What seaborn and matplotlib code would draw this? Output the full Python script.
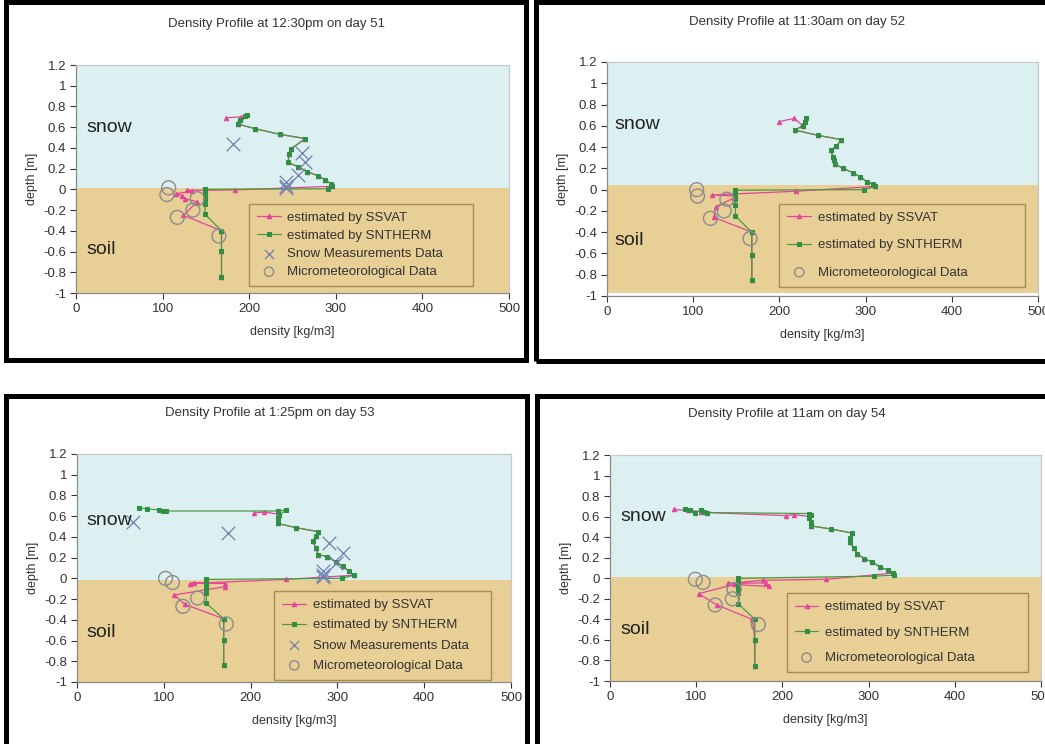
import numpy as np
import pandas as pd
import matplotlib
matplotlib.use("Agg")
import matplotlib.pyplot as plt
import seaborn as sns
from matplotlib.patches import Rectangle

sns.set_theme(style="white")
plt.rcParams['font.family'] = ['Liberation Sans', 'DejaVu Sans']

# ---------------- data ----------------
titles = ["Density Profile at 12:30pm on day 51",
          "Density Profile at 11:30am on day 52",
          "Density Profile at 1:25pm on day 53",
          "Density Profile at 11am on day 54"]

legend_labels = ["estimated by SSVAT", "estimated by SNTHERM",
                 "Snow Measurements Data", "Micrometeorological Data"]

x_ticks = [0, 100, 200, 300, 400, 500]
y_ticks = [1.2, 1.0, 0.8, 0.6, 0.4, 0.2, 0.0, -0.2, -0.4, -0.6, -0.8, -1.0]
y_tick_labels = ["1.2", "1", "0.8", "0.6", "0.4", "0.2", "0", "-0.2", "-0.4", "-0.6", "-0.8", "-1"]

# snow/soil boundary and soil bottom per panel
surface_level = [0.01, 0.04, -0.015, 0.015]
soil_bottom = [-1.0, -0.97, -1.0, -1.0]

# Panel 1 (day 51)
p1_sntherm_x = [195, 198, 189, 187, 207, 236, 265, 248, 246, 245, 256, 267, 280, 288, 295, 296, 291,
                149, 149, 149, 149, 149, 149, 149, 168, 168, 168]
p1_sntherm_y = [0.71, 0.72, 0.67, 0.63, 0.585, 0.53, 0.49, 0.39, 0.34, 0.26, 0.22, 0.17, 0.13, 0.09, 0.05, 0.03, 0.006,
                0.0, -0.02, -0.04, -0.06, -0.09, -0.14, -0.24, -0.40, -0.59, -0.85]
p1_ssvat_x = [173, 190, 188, 187, 207, 236, 265, 248, 246, 245, 256, 267, 280, 288, 295, 296,
              184, 128, 134, 116, 122, 126, 140, 124, 168, 168, 168]
p1_ssvat_y = [0.69, 0.70, 0.67, 0.63, 0.585, 0.53, 0.49, 0.39, 0.34, 0.26, 0.22, 0.17, 0.13, 0.09, 0.05, 0.03,
              -0.005, -0.01, -0.02, -0.04, -0.06, -0.09, -0.12, -0.25, -0.40, -0.59, -0.85]
p1_snow_x = [181, 261, 265, 256, 242, 243, 242]
p1_snow_y = [0.44, 0.35, 0.26, 0.14, 0.07, 0.03, 0.015]
p1_micro_x = [107, 105, 140, 135, 117, 165]
p1_micro_y = [0.015, -0.05, -0.09, -0.20, -0.27, -0.45]

# Panel 2 (day 52)
p2_sntherm_x = [231, 230, 227, 218, 245, 272, 266, 260, 262, 263, 264, 274, 285, 294, 302, 309, 311, 298,
                149, 149, 149, 149, 149, 149, 149, 168, 168, 168]
p2_sntherm_y = [0.67, 0.64, 0.60, 0.56, 0.51, 0.47, 0.41, 0.37, 0.31, 0.28, 0.24, 0.20, 0.16, 0.12, 0.07, 0.05, 0.03, 0.0,
                -0.005, -0.02, -0.04, -0.06, -0.09, -0.14, -0.25, -0.40, -0.61, -0.85]
p2_ssvat_x = [200, 217, 226, 227, 218, 245, 272, 266, 260, 262, 263, 264, 274, 285, 294, 302, 309, 311,
              219, 122, 148, 147, 126, 124, 168, 168, 168]
p2_ssvat_y = [0.64, 0.67, 0.61, 0.60, 0.56, 0.51, 0.47, 0.41, 0.37, 0.31, 0.28, 0.24, 0.20, 0.16, 0.12, 0.07, 0.05, 0.03,
              -0.015, -0.05, -0.06, -0.08, -0.16, -0.26, -0.40, -0.61, -0.85]
p2_micro_x = [104, 105, 139, 136, 120, 166]
p2_micro_y = [0.0, -0.06, -0.09, -0.20, -0.27, -0.46]

# Panel 3 (day 53)
p3_sntherm_x = [72, 81, 95, 99, 102, 231, 241, 233, 231, 231, 252, 278, 275, 272, 275, 278, 288, 298, 306, 313, 319, 305,
                149, 149, 149, 149, 149, 149, 149, 169, 169, 169]
p3_sntherm_y = [0.68, 0.67, 0.66, 0.65, 0.65, 0.65, 0.66, 0.61, 0.58, 0.53, 0.49, 0.45, 0.41, 0.36, 0.29, 0.23, 0.21, 0.16,
                0.12, 0.07, 0.03, 0.0,
                -0.01, -0.03, -0.05, -0.07, -0.09, -0.14, -0.24, -0.39, -0.59, -0.84]
p3_ssvat_x = [204, 216, 231, 233, 231, 231, 252, 278, 275, 272, 275, 278, 288, 298, 306, 313, 319,
              241, 130, 135, 170, 171, 112, 124, 169, 169, 169]
p3_ssvat_y = [0.63, 0.64, 0.62, 0.61, 0.58, 0.53, 0.49, 0.45, 0.41, 0.36, 0.29, 0.23, 0.21, 0.16, 0.12, 0.07, 0.03,
              -0.01, -0.05, -0.04, -0.05, -0.08, -0.16, -0.25, -0.39, -0.59, -0.84]
p3_snow_x = [64, 174, 290, 307, 298, 283, 283, 283]
p3_snow_y = [0.54, 0.44, 0.34, 0.24, 0.15, 0.07, 0.03, 0.01]
p3_micro_x = [102, 110, 139, 122, 172]
p3_micro_y = [0.0, -0.04, -0.19, -0.27, -0.44]

# Panel 4 (day 54)
p4_sntherm_x = [87, 93, 99, 105, 109, 112, 231, 233, 231, 233, 233, 256, 281, 279, 278, 283, 287, 295, 304, 313,
                322, 328, 330, 306,
                149, 149, 149, 149, 149, 149, 149, 168, 168, 168]
p4_sntherm_y = [0.67, 0.66, 0.64, 0.66, 0.65, 0.64, 0.63, 0.62, 0.59, 0.55, 0.51, 0.48, 0.44, 0.39, 0.35, 0.29, 0.24,
                0.19, 0.16, 0.11, 0.08, 0.05, 0.03, 0.02,
                0.0, -0.02, -0.04, -0.06, -0.09, -0.14, -0.25, -0.40, -0.60, -0.85]
p4_ssvat_x = [74, 90, 105, 112, 204, 214, 231, 233, 233, 256, 281, 279, 278, 283, 287, 295, 304, 313, 322, 328,
              251, 177, 137, 181, 185, 144, 103, 124, 165, 168, 168]
p4_ssvat_y = [0.67, 0.66, 0.65, 0.64, 0.61, 0.62, 0.60, 0.55, 0.51, 0.48, 0.44, 0.39, 0.35, 0.29, 0.24, 0.19, 0.16,
              0.11, 0.08, 0.05,
              -0.01, -0.02, -0.05, -0.045, -0.08, -0.06, -0.15, -0.26, -0.40, -0.60, -0.85]
p4_micro_x = [99, 108, 144, 142, 122, 172]
p4_micro_y = [-0.01, -0.04, -0.11, -0.20, -0.26, -0.45]

panels = [
    dict(ssvat=(p1_ssvat_x, p1_ssvat_y), sntherm=(p1_sntherm_x, p1_sntherm_y),
         snow=(p1_snow_x, p1_snow_y), micro=(p1_micro_x, p1_micro_y)),
    dict(ssvat=(p2_ssvat_x, p2_ssvat_y), sntherm=(p2_sntherm_x, p2_sntherm_y),
         snow=None, micro=(p2_micro_x, p2_micro_y)),
    dict(ssvat=(p3_ssvat_x, p3_ssvat_y), sntherm=(p3_sntherm_x, p3_sntherm_y),
         snow=(p3_snow_x, p3_snow_y), micro=(p3_micro_x, p3_micro_y)),
    dict(ssvat=(p4_ssvat_x, p4_ssvat_y), sntherm=(p4_sntherm_x, p4_sntherm_y),
         snow=None, micro=(p4_micro_x, p4_micro_y)),
]

# ---------------- layout (pixels) ----------------
W, H = 1045, 744
axes_px = [(76, 65, 509, 293), (607, 62, 1038, 296), (77, 454, 511, 682), (610, 455, 1041, 681)]
frames_px = [(6, 2, 526, 360), (536, 2, 1060, 360.5), (6, 396, 527, 760), (537, 396, 1060, 760)]
title_x = [0.462, 0.44, 0.445, 0.41]
legend_box = [(0.40, 0.03, 0.517), (0.40, 0.04, 0.57), (0.455, 0.01, 0.5), (0.41, 0.04, 0.56)]
legend_spacing = [0.45, 1.15, 0.6, 1.0]
snow_pos = [(12, 0.60), (9, 0.61), (11, 0.555), (12, 0.60)]
soil_pos = [(12, -0.58), (9, -0.48), (11, -0.525), (12, -0.50)]

SNOW_C = "#dcf0f2"
SOIL_C = "#e8cf96"
PINK = "#e2459a"
GREEN = "#4c9a3c"
GREEN_M = "#2f8f45"
XCOL = "#6f7fae"
OCOL = "#8c8c8c"

fig = plt.figure(figsize=(W / 100, H / 100), dpi=100)
fig.patch.set_facecolor("white")

for i, p in enumerate(panels):
    l, t, r, b = axes_px[i]
    ax = fig.add_axes([l / W, 1 - b / H, (r - l) / W, (b - t) / H])
    ax.set_facecolor("white")
    ax.axhspan(surface_level[i], 1.2, color=SNOW_C, lw=0, zorder=0)
    ax.axhspan(soil_bottom[i], surface_level[i], color=SOIL_C, lw=0, zorder=0)

    sx, sy = p["ssvat"]
    sns.lineplot(x=sx, y=sy, sort=False, estimator=None, ax=ax, color=PINK, lw=0.9,
                 marker="^", markersize=3.2, markeredgecolor=PINK, markerfacecolor=PINK,
                 label=legend_labels[0], zorder=3)
    gx, gy = p["sntherm"]
    sns.lineplot(x=gx, y=gy, sort=False, estimator=None, ax=ax, color=GREEN, lw=0.9,
                 marker="s", markersize=3.0, markeredgecolor=GREEN_M, markerfacecolor=GREEN_M,
                 label=legend_labels[1], zorder=4)
    if p["snow"] is not None:
        xx, xy = p["snow"]
        sns.scatterplot(x=xx, y=xy, ax=ax, marker="x", s=95, color=XCOL, linewidth=0.9,
                        label=legend_labels[2], zorder=5)
    mx, my = p["micro"]
    sns.scatterplot(x=mx, y=my, ax=ax, marker="o", s=100, facecolors="none", edgecolors=OCOL,
                    linewidths=1.0, label=legend_labels[3], zorder=5)

    ax.set_xlim(0, 500)
    ax.set_ylim(-1, 1.2)
    ax.set_xticks(x_ticks)
    ax.set_xticklabels([str(v) for v in x_ticks])
    ax.set_yticks(y_ticks)
    ax.set_yticklabels(y_tick_labels)
    ax.tick_params(axis="both", which="major", labelsize=9.5, colors="#333333",
                   length=4, width=0.8, direction="out", left=True, bottom=True, pad=3)
    for side in ["left", "bottom"]:
        ax.spines[side].set_color("#8a8a8a")
        ax.spines[side].set_linewidth(0.9)
    for side in ["top", "right"]:
        ax.spines[side].set_color("#c8c8c8")
        ax.spines[side].set_linewidth(0.9)

    ax.set_xlabel("density [kg/m3]", fontsize=9, color="#333333", labelpad=8)
    ax.set_ylabel("depth [m]", fontsize=9, color="#333333", labelpad=4)
    ax.set_title(titles[i], fontsize=9.5, color="#333333", x=title_x[i], pad=27)

    ax.text(*snow_pos[i], "snow", fontsize=14, color="#222222", ha="left", va="center", zorder=6)
    ax.text(*soil_pos[i], "soil", fontsize=14, color="#222222", ha="left", va="center", zorder=6)

    x0, y0, w = legend_box[i]
    leg = ax.legend(loc="lower left", bbox_to_anchor=(x0, y0, w, 0.3), mode="expand",
                    fontsize=9.5, frameon=True, fancybox=False, framealpha=1,
                    facecolor=SOIL_C, edgecolor="#a68c55", handlelength=1.8,
                    handletextpad=0.5, labelspacing=legend_spacing[i], borderpad=0.6,
                    borderaxespad=0)
    leg.get_frame().set_linewidth(1.0)
    leg.set_zorder(7)
    for h in leg.legend_handles:
        if hasattr(h, "set_sizes"):
            h.set_sizes([45])
    for txt in leg.get_texts():
        txt.set_color("#333333")

# black panel frames
for (x0, y0, x1, y1) in frames_px:
    fig.add_artist(Rectangle((x0 / W, 1 - y1 / H), (x1 - x0) / W, (y1 - y0) / H,
                             transform=fig.transFigure, fill=False, ec="black", lw=3.6))

fig.savefig("out.png", dpi=100, facecolor="white")
